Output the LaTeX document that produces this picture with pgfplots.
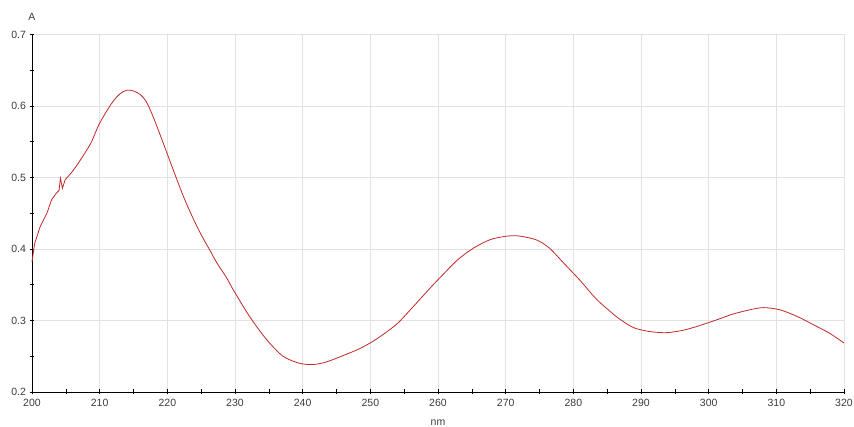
\documentclass[border=0pt]{standalone}
\usepackage{fontspec}
\setmainfont{Liberation Sans}
\usepackage{pgfplots}
\pgfplotsset{compat=1.18}
\definecolor{curve}{RGB}{195,40,40}
\definecolor{gridc}{RGB}{226,226,226}
\definecolor{txt}{RGB}{60,60,60}
\begin{document}
\begin{tikzpicture}[x=1pt,y=1pt]
\path[use as bounding box] (-32,-35) rectangle (822,392);
\begin{axis}[
  at={(0,0)}, anchor=south west,
  scale only axis, width=812pt, height=357.5pt,
  xmin=200, xmax=320, ymin=0.2, ymax=0.7,
  xtick={200,210,...,320}, ytick={0.2,0.3,...,0.7},
  minor x tick num=1, minor y tick num=1,
  axis x line=bottom, axis y line=left,
  axis line style={-, black, line width=0.8pt},
  tick align=center,
  major tick length=5pt, minor tick length=5pt,
  tick style={black, line width=0.6pt},
  grid=major,
  major grid style={gridc, line width=0.6pt},
  /pgf/number format/assume math mode=true,
  yticklabel style={/pgf/number format/fixed, /pgf/number format/precision=1, /pgf/number format/fixed zerofill},
  xticklabel style={/pgf/number format/1000 sep={}, yshift=-1.5pt},
  tick label style={font=\fontsize{10.5}{12}\selectfont, text=txt},
  label style={font=\fontsize{10.5}{12}\selectfont, text=txt},
  xlabel={nm},
  xlabel style={at={(axis description cs:0.5,-0.087)}, anchor=center},
  ylabel={A},
  ylabel style={rotate=-90, at={(axis description cs:0,1.049)}, anchor=center},
  clip=false,
]
\addplot[curve, line width=0.8pt] coordinates {
(200.0,0.382) (200.4,0.408) (201.2,0.431) (202.2,0.450) (202.9,0.469)
(203.6,0.478) (204.0,0.482) (204.2,0.499) (204.5,0.485) (204.9,0.497)
};
\addplot[curve, line width=0.8pt, smooth, tension=0.5] coordinates {
(204.9,0.497)
(206.1,0.510) (207.6,0.531) (208.8,0.550) (210.0,0.576) (211.8,0.604)
(213.0,0.617) (214.0,0.622) (215.0,0.621) (216.0,0.616) (216.9,0.606)
(217.9,0.585) (219.4,0.548) (220.9,0.510) (222.4,0.473) (223.8,0.443)
(225.0,0.420) (226.3,0.398) (227.3,0.381) (228.8,0.359) (229.8,0.342)
(232.2,0.305) (234.7,0.273) (237.1,0.250) (239.6,0.240) (241.6,0.2385)
(243.5,0.242) (246.0,0.251) (248.5,0.261) (250.9,0.274) (253.9,0.295)
(256.3,0.319) (258.8,0.345) (260.3,0.360) (262.8,0.384) (265.2,0.401)
(267.7,0.413) (270.2,0.418) (272.1,0.418) (274.6,0.4125) (276.5,0.401)
(278.5,0.381) (281.0,0.356) (283.4,0.330) (285.9,0.309) (287.0,0.301)
(288.9,0.290) (291.3,0.2845) (293.8,0.283) (296.3,0.2865) (298.7,0.293)
(301.2,0.301) (303.6,0.309) (306.1,0.315) (308.1,0.318) (310.5,0.315)
(313.0,0.306) (315.5,0.294) (317.9,0.282) (320.0,0.2685)
};
\end{axis}
\end{tikzpicture}
\end{document}
